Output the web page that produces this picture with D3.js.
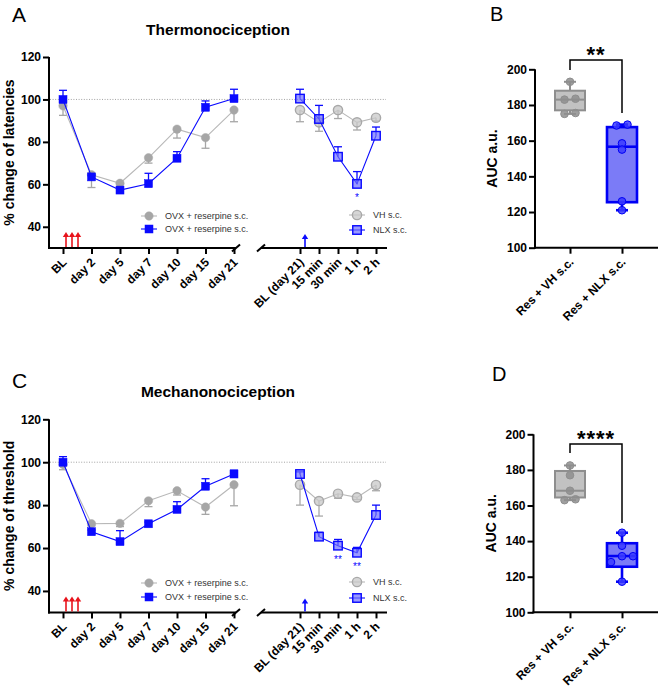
<!DOCTYPE html>
<html>
<head>
<meta charset="utf-8">
<script src="https://cdn.jsdelivr.net/npm/d3@7"></script>
<style>
  body { margin: 0; background: #fff; }
  svg { font-family: "Liberation Sans", Arial, sans-serif; }
</style>
</head>
<body>
<div id="chart"></div>
<script>
// ---------- data ----------
var leftCats = ['BL', 'day 2', 'day 5', 'day 7', 'day 10', 'day 15', 'day 21'];
var rightCats = ['BL (day 21)', '15 min', '30 min', '1 h', '2 h'];
var boxCats = ['Res + VH s.c.', 'Res + NLX s.c.'];
var yTicks = [40, 60, 80, 100, 120];
var aucTicks = [100, 120, 140, 160, 180, 200];

// thermonociception (A)
var thermoOvx = [97, 64.5, 60.5, 72.5, 86, 82, 95];
var thermoOvxErr = [4.5, 6, 0.5, 2.5, 4.2, 5, 5.5];
var thermoRes = [100, 63.5, 57.3, 60.3, 72.3, 96.3, 100.4];
var thermoResErr = [4.3, 0.8, 0.8, 4.9, 3.1, 3, 4.4];
var thermoVH = [95, 89.2, 95, 89.2, 91.4];
var thermoVHErr = [5.5, 4.2, 4, 3.6, 1.5];
var thermoNLX = [100.4, 90.8, 73, 60.2, 82.9];
var thermoNLXErr = [4.4, 6.4, 4.7, 5.8, 4.1];
var thermoStars = ['', '', '', '*', ''];

// mechanonociception (C)
var mechOvx = [99, 71.3, 71.5, 82, 86.7, 79.1, 89.5];
var mechOvxErr = [2.5, 1, 1.5, 2.7, 2, 3.4, 9.8];
var mechRes = [100, 67.6, 63, 71.3, 78, 88.8, 94.5];
var mechResErr = [2.6, 0.8, 5.1, 0.8, 3.6, 3.5, 1.8];
var mechVH = [89.5, 81.9, 85.3, 83.6, 89.4];
var mechVHErr = [9.5, 7, 2.1, 1, 2.7];
var mechNLX = [94.5, 65.3, 61.1, 57.8, 75.4];
var mechNLXErr = [1, 2, 2.9, 2.5, 4.6];
var mechStars = ['', '', '**', '**', ''];

// AUC (B, D): individual animals + box stats [min, q1, median, q3, max]
var thermoAucVH = [193, 183, 183.5, 175, 175.5];
var thermoAucVHBox = [175, 177, 183, 188, 193];
var thermoAucNLX = [169, 168.5, 158.5, 155, 126, 121];
var thermoAucNLXBox = [121, 125.5, 156.6, 167.6, 169];
var mechAucVH = [182.5, 177, 168.3, 163, 163.5];
var mechAucVHBox = [163, 164.5, 168.3, 179.4, 182.5];
var mechAucNLX = [144.7, 137.4, 131.5, 131.5, 128.2, 117.2];
var mechAucNLXBox = [117.2, 125.6, 131.6, 138.8, 144.7];

// ---------- drawing ----------
var W = 658, H = 699;
var FONT = '"Liberation Sans", Arial, sans-serif';
var GRAY = '#a6a6a6', GRAY_LINE = '#b8b8b8', BLUE = '#0a0aff';

var svg = d3.select('#chart').append('svg')
    .attr('width', W)
    .attr('height', H);

function styleAxis(sel, size) {
    sel.selectAll('path.domain').attr('stroke', '#000').attr('stroke-width', 2);
    sel.selectAll('.tick line').attr('stroke', '#000').attr('stroke-width', 2);
    sel.selectAll('.tick text')
        .attr('fill', '#000')
        .style('font-family', FONT)
        .style('font-weight', 'bold')
        .style('font-size', size + 'px');
}

function rotateLabels(sel) {
    sel.selectAll('.tick text')
        .attr('x', 0).attr('y', 0).attr('dy', '0.35em')
        .attr('transform', 'translate(1,12) rotate(-45)')
        .style('text-anchor', 'end');
}

function series(g, x, y, vals, errs, dir, opts) {
    var pts = vals.map(function (v, i) { return { c: x.domain()[i], v: v, e: errs[i] }; });

    // error bars (one-sided)
    var eb = g.append('g').attr('stroke', opts.stroke).attr('stroke-width', 1.3);
    pts.forEach(function (d) {
        var end = y(d.v + dir * d.e);
        eb.append('line').attr('x1', x(d.c)).attr('x2', x(d.c)).attr('y1', y(d.v)).attr('y2', end);
        eb.append('line').attr('x1', x(d.c) - 4).attr('x2', x(d.c) + 4).attr('y1', end).attr('y2', end);
    });

    g.append('path')
        .datum(pts)
        .attr('fill', 'none')
        .attr('stroke', opts.line)
        .attr('stroke-width', 1.1)
        .attr('d', d3.line().x(function (d) { return x(d.c); }).y(function (d) { return y(d.v); }));

    marker(g, pts.map(function (d) { return [x(d.c), y(d.v)]; }), opts);
}

function marker(g, xy, opts) {
    if (opts.shape === 'circle') {
        g.selectAll(null).data(xy).enter().append('circle')
            .attr('cx', function (d) { return d[0]; })
            .attr('cy', function (d) { return d[1]; })
            .attr('r', opts.open ? 4.6 : 4.2)
            .attr('fill', opts.fill)
            .attr('fill-opacity', opts.open ? 0.75 : 1)
            .attr('stroke', opts.stroke)
            .attr('stroke-width', opts.open ? 1.4 : 0.5);
    } else {
        var s = opts.open ? 8.5 : 8;
        g.selectAll(null).data(xy).enter().append('rect')
            .attr('x', function (d) { return d[0] - s / 2; })
            .attr('y', function (d) { return d[1] - s / 2; })
            .attr('width', s).attr('height', s)
            .attr('fill', opts.fill)
            .attr('fill-opacity', opts.open ? 0.7 : 1)
            .attr('stroke', opts.stroke)
            .attr('stroke-width', opts.open ? 1.4 : 0.5);
    }
}

var ovxStyle = { shape: 'circle', fill: GRAY, stroke: GRAY, line: GRAY_LINE };
var resStyle = { shape: 'square', fill: BLUE, stroke: BLUE, line: BLUE };
var vhStyle = { shape: 'circle', open: true, fill: '#c8c8c8', stroke: '#a8a8a8', line: GRAY_LINE };
var nlxStyle = { shape: 'square', open: true, fill: '#6f6fff', stroke: BLUE, line: BLUE };

function legendRow(g, x, y, label, opts) {
    g.append('line').attr('x1', x - 8).attr('x2', x + 8).attr('y1', y).attr('y2', y)
        .attr('stroke', opts.line).attr('stroke-width', 1.1);
    marker(g, [[x, y]], opts);
    g.append('text').attr('x', x + 16).attr('y', y).attr('dy', '0.35em')
        .style('font-size', '9px').attr('fill', '#333').text(label);
}

function timeCourse(o) {
    var g = svg.append('g');
    var y = d3.scaleLinear().domain([30, 120]).range([o.y0, o.y1]);
    var xL = d3.scalePoint().domain(leftCats).range([63, 234]);
    var xR = d3.scalePoint().domain(rightCats).range([300, 376]);

    // panel letter + title
    g.append('text').attr('x', 12).attr('y', o.letterY).style('font-size', '21px').text(o.letter);
    g.append('text').attr('x', 218).attr('y', o.titleY).attr('text-anchor', 'middle')
        .style('font-size', '15.5px').style('font-weight', 'bold').text(o.title);

    // y axis
    var ya = g.append('g').attr('transform', 'translate(49,0)')
        .call(d3.axisLeft(y).tickValues(yTicks).tickSize(6).tickSizeOuter(0).tickPadding(2));
    styleAxis(ya, 12);
    ya.select('path.domain').attr('d', 'M0,' + (o.y0 + 1) + 'V' + o.y1);

    g.append('text')
        .attr('transform', 'translate(14,' + ((o.y0 + o.y1) / 2) + ') rotate(-90)')
        .attr('text-anchor', 'middle')
        .style('font-size', '14px').style('font-weight', 'bold')
        .text(o.ylabel);

    // reference line at 100 %
    g.append('line').attr('x1', 50).attr('x2', 386).attr('y1', y(100)).attr('y2', y(100))
        .attr('stroke', '#8c8c8c').attr('stroke-width', 0.8).attr('stroke-dasharray', '1,1.6');

    // broken x axis
    var xa1 = g.append('g').attr('transform', 'translate(0,' + o.y0 + ')')
        .call(d3.axisBottom(xL).tickSize(6).tickSizeOuter(0));
    var xa2 = g.append('g').attr('transform', 'translate(0,' + o.y0 + ')')
        .call(d3.axisBottom(xR).tickSize(6).tickSizeOuter(0));
    [xa1, xa2].forEach(function (a) { styleAxis(a, 12); rotateLabels(a); a.select('path.domain').remove(); });
    var ax = g.append('g').attr('stroke', '#000').attr('stroke-width', 2);
    ax.append('line').attr('x1', 48).attr('x2', 236).attr('y1', o.y0).attr('y2', o.y0);
    ax.append('line').attr('x1', 232).attr('x2', 240).attr('y1', o.y0 + 3.5).attr('y2', o.y0 - 3.5);
    ax.append('line').attr('x1', 261).attr('x2', 387).attr('y1', o.y0).attr('y2', o.y0);
    ax.append('line').attr('x1', 257).attr('x2', 265).attr('y1', o.y0 + 3.5).attr('y2', o.y0 - 3.5);

    // injection arrows
    var arrows = g.append('g');
    [66, 72, 78].forEach(function (ax0) { arrow(arrows, ax0, o.y0 - 1, o.y0 - 16, '#e8141c'); });
    arrow(arrows, 305, o.y0 - 1, o.y0 - 14, BLUE);

    // series
    series(g, xL, y, o.ovx, o.ovxErr, -1, ovxStyle);
    series(g, xL, y, o.res, o.resErr, 1, resStyle);
    series(g, xR, y, o.vh, o.vhErr, -1, vhStyle);
    series(g, xR, y, o.nlx, o.nlxErr, 1, nlxStyle);

    g.selectAll(null).data(o.stars).enter().append('text')
        .attr('x', function (d, i) { return xR(rightCats[i]); })
        .attr('y', function (d, i) { return y(o.nlx[i]) + 17; })
        .attr('text-anchor', 'middle')
        .attr('fill', BLUE)
        .style('font-size', '10px')
        .text(function (d) { return d; });

    // legends
    legendRow(g, 149, o.legY[0], 'OVX + reserpine s.c.', ovxStyle);
    legendRow(g, 149, o.legY[1], 'OVX + reserpine s.c.', resStyle);
    legendRow(g, 357, o.legY[0] - 1, 'VH s.c.', vhStyle);
    legendRow(g, 357, o.legY[1] + 1, 'NLX s.c.', nlxStyle);
}

function arrow(g, x, yBase, yTip, color) {
    g.append('line').attr('x1', x).attr('x2', x).attr('y1', yBase).attr('y2', yTip + 4)
        .attr('stroke', color).attr('stroke-width', 1.6);
    g.append('path')
        .attr('d', 'M' + (x - 3.2) + ',' + (yTip + 5) + 'L' + x + ',' + yTip + 'L' + (x + 3.2) + ',' + (yTip + 5) + 'Z')
        .attr('fill', color);
}

function swarmOffsets(vals, y) {
    var idx = vals.map(function (v, i) { return i; }).sort(function (a, b) { return vals[a] - vals[b]; });
    var off = vals.map(function () { return 0; });
    var cluster = [idx[0]];
    function flush() {
        cluster.forEach(function (k, j) { off[k] = (j - (cluster.length - 1) / 2) * 11; });
    }
    for (var i = 1; i < idx.length; i++) {
        if (Math.abs(y(vals[idx[i]]) - y(vals[idx[i - 1]])) < 6) cluster.push(idx[i]);
        else { flush(); cluster = [idx[i]]; }
    }
    flush();
    return off;
}

function boxPanel(o) {
    var g = svg.append('g');
    var y = d3.scaleLinear().domain([100, 200]).range([o.y0, o.y1]);
    var x = d3.scalePoint().domain(boxCats).range([570, 622]);

    g.append('text').attr('x', o.letterX).attr('y', o.letterY).style('font-size', '20px').text(o.letter);

    var ya = g.append('g').attr('transform', 'translate(' + o.ax + ',0)')
        .call(d3.axisLeft(y).tickValues(aucTicks).tickSize(6).tickSizeOuter(0).tickPadding(2));
    styleAxis(ya, 12);
    ya.select('path.domain').attr('d', 'M0,' + (o.y0 + 1) + 'V' + o.y1);

    g.append('text')
        .attr('transform', 'translate(' + (o.ax - 38) + ',' + ((o.y0 + o.y1) / 2) + ') rotate(-90)')
        .attr('text-anchor', 'middle')
        .style('font-size', '14px').style('font-weight', 'bold')
        .text('AUC a.u.');

    var xa = g.append('g').attr('transform', 'translate(0,' + o.y0 + ')')
        .call(d3.axisBottom(x).tickSize(6).tickSizeOuter(0));
    styleAxis(xa, 12);
    rotateLabels(xa);
    xa.select('path.domain').remove();
    g.append('line').attr('x1', o.ax - 1).attr('x2', W).attr('y1', o.y0).attr('y2', o.y0)
        .attr('stroke', '#000').attr('stroke-width', 2);

    var groups = [
        { c: boxCats[0], pts: o.vh, box: o.vhBox, fill: '#c2c2c2', stroke: '#8e8e8e', dot: '#8e8e8e', sw: 2 },
        { c: boxCats[1], pts: o.nlx, box: o.nlxBox, fill: '#7b7bf7', stroke: '#0000f5', dot: '#3b3bff', sw: 2.6 }
    ];
    groups.forEach(function (d) {
        var cx = x(d.c), b = d.box, hw = 15, cap = 6;
        var bg = g.append('g').attr('stroke', d.stroke).attr('stroke-width', d.sw);
        bg.append('line').attr('x1', cx).attr('x2', cx).attr('y1', y(b[0])).attr('y2', y(b[4]));
        bg.append('line').attr('x1', cx - cap).attr('x2', cx + cap).attr('y1', y(b[0])).attr('y2', y(b[0]));
        bg.append('line').attr('x1', cx - cap).attr('x2', cx + cap).attr('y1', y(b[4])).attr('y2', y(b[4]));
        bg.append('rect').attr('x', cx - hw).attr('width', 2 * hw)
            .attr('y', y(b[3])).attr('height', y(b[1]) - y(b[3]))
            .attr('fill', d.fill);
        bg.append('line').attr('x1', cx - hw).attr('x2', cx + hw).attr('y1', y(b[2])).attr('y2', y(b[2]));

        var off = swarmOffsets(d.pts, y);
        g.selectAll(null).data(d.pts).enter().append('circle')
            .attr('cx', function (v, i) { return cx + off[i]; })
            .attr('cy', function (v) { return y(v); })
            .attr('r', 3.8)
            .attr('fill', d.dot)
            .attr('fill-opacity', 0.85)
            .attr('stroke', d.stroke)
            .attr('stroke-width', 1);
    });

    // significance bracket
    var x1 = x(boxCats[0]), x2 = x(boxCats[1]);
    g.append('path')
        .attr('d', 'M' + x1 + ',' + o.br[0] + 'V' + o.br[1] + 'H' + x2 + 'V' + o.br[2])
        .attr('fill', 'none').attr('stroke', '#000').attr('stroke-width', 1.5);
    g.append('text').attr('x', (x1 + x2) / 2).attr('y', o.br[1] + 2)
        .attr('text-anchor', 'middle')
        .style('font-size', '22px').style('font-weight', 'bold')
        .style('letter-spacing', '1px')
        .text(o.sig);
}

timeCourse({
    letter: 'A', title: 'Thermonociception', ylabel: '% change of latencies',
    y0: 248, y1: 57, letterY: 22, titleY: 35,
    ovx: thermoOvx, ovxErr: thermoOvxErr, res: thermoRes, resErr: thermoResErr,
    vh: thermoVH, vhErr: thermoVHErr, nlx: thermoNLX, nlxErr: thermoNLXErr,
    stars: thermoStars, legY: [216, 229]
});

timeCourse({
    letter: 'C', title: 'Mechanonociception', ylabel: '% change of threshold',
    y0: 612.4, y1: 419.3, letterY: 388, titleY: 397,
    ovx: mechOvx, ovxErr: mechOvxErr, res: mechRes, resErr: mechResErr,
    vh: mechVH, vhErr: mechVHErr, nlx: mechNLX, nlxErr: mechNLXErr,
    stars: mechStars, legY: [583, 597]
});

boxPanel({
    letter: 'B', ax: 535, y0: 247.7, y1: 69.3, letterX: 490, letterY: 21,
    vh: thermoAucVH, vhBox: thermoAucVHBox, nlx: thermoAucNLX, nlxBox: thermoAucNLXBox,
    br: [70, 60, 113], sig: '**'
});

boxPanel({
    letter: 'D', ax: 533.5, y0: 612.3, y1: 434.3, letterX: 492, letterY: 381,
    vh: mechAucVH, vhBox: mechAucVHBox, nlx: mechAucNLX, nlxBox: mechAucNLXBox,
    br: [453, 444, 523], sig: '****'
});
</script>
</body>
</html>
